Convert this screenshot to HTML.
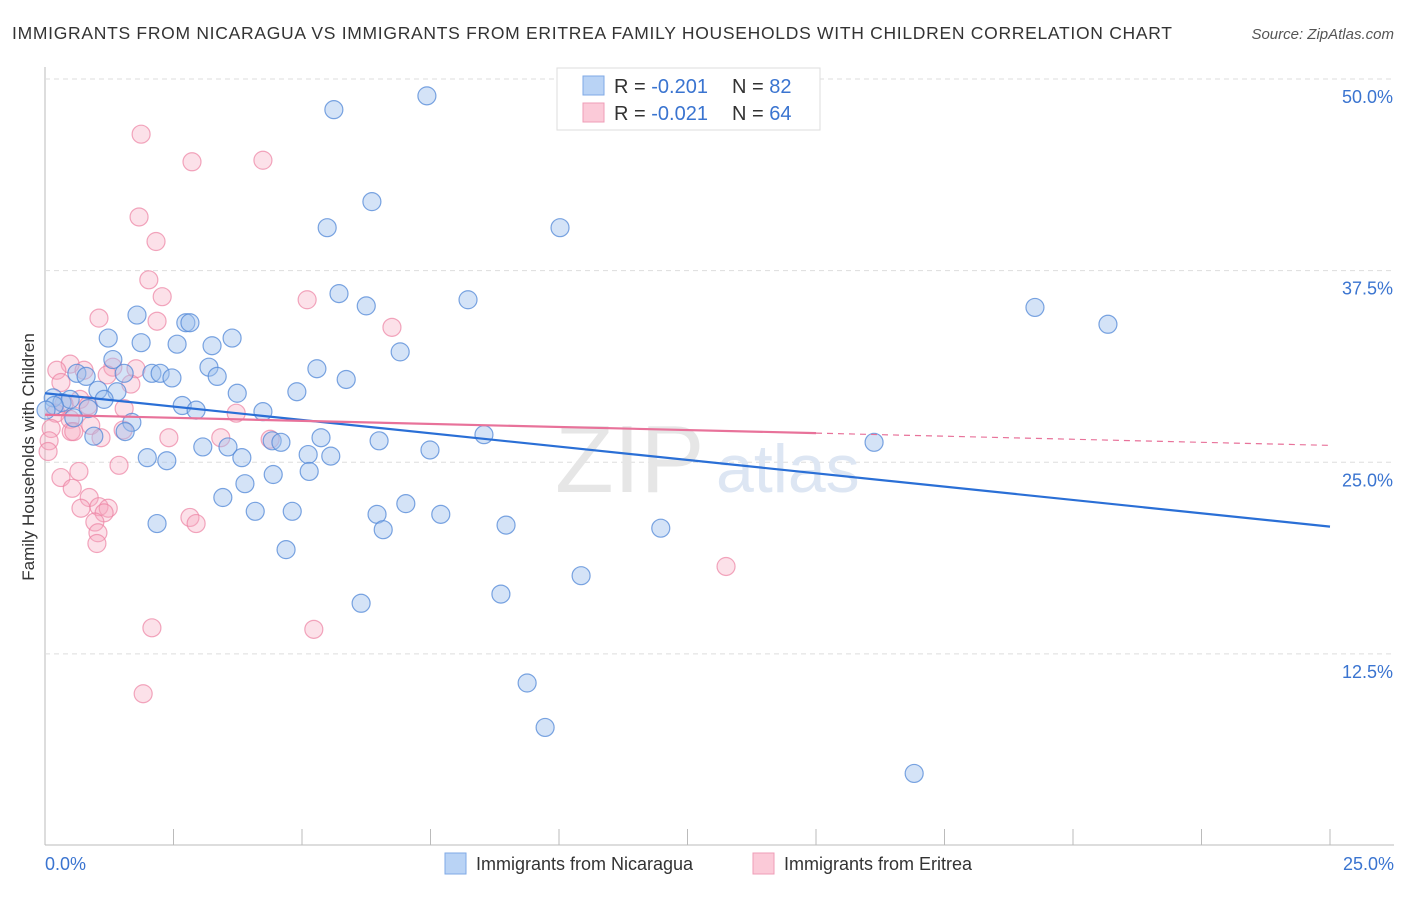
<!DOCTYPE html>
<html><head><meta charset="utf-8"><style>
body{margin:0;background:#fff;font-family:"Liberation Sans",sans-serif;}
svg text{font-family:"Liberation Sans",sans-serif;}
</style></head><body>
<svg id="chart" width="1406" height="892" xmlns="http://www.w3.org/2000/svg">
<text x="12" y="39" font-size="17.5" fill="#333" textLength="1160" lengthAdjust="spacing">IMMIGRANTS FROM NICARAGUA VS IMMIGRANTS FROM ERITREA FAMILY HOUSEHOLDS WITH CHILDREN CORRELATION CHART</text>
<text x="1394" y="39" font-size="15" fill="#555" font-style="italic" text-anchor="end">Source: ZipAtlas.com</text>
<text transform="translate(34,457) rotate(-90)" font-size="17" fill="#333" text-anchor="middle">Family Households with Children</text>
<g id="grid"></g>
<text x="555" y="492" font-size="96" fill="#e6e6e6" font-family="Liberation Serif">ZIP</text>
<text x="716" y="492" font-size="68" fill="#dde6f3">atlas</text>
<g id="pts"></g>
<g id="lines"></g>
<g>
<rect x="557" y="68" width="263" height="62" fill="#fff" stroke="#ddd"/>
<rect x="583" y="76" width="21" height="19" fill="#b9d3f5" stroke="#7fa9e6"/>
<rect x="583" y="103" width="21" height="19" fill="#fbcad8" stroke="#ef9db7"/>
<text x="614" y="93" font-size="20" fill="#333">R = <tspan fill="#3a74d0">-0.201</tspan></text>
<text x="732" y="93" font-size="20" fill="#333">N = <tspan fill="#3a74d0">82</tspan></text>
<text x="614" y="120" font-size="20" fill="#333">R = <tspan fill="#3a74d0">-0.021</tspan></text>
<text x="732" y="120" font-size="20" fill="#333">N = <tspan fill="#3a74d0">64</tspan></text>
</g>
<g>
<rect x="445" y="853" width="21" height="21" fill="#b9d3f5" stroke="#7fa9e6"/>
<text x="476" y="870" font-size="18" fill="#333">Immigrants from Nicaragua</text>
<rect x="753" y="853" width="21" height="21" fill="#fbcad8" stroke="#ef9db7"/>
<text x="784" y="870" font-size="18" fill="#333">Immigrants from Eritrea</text>
</g>
</svg>
<script>
const yTicks=[12.5,25,37.5,50];
const yTickLabels=["12.5%","25.0%","37.5%","50.0%"];
const xTicks=[0,2.5,5,7.5,10,12.5,15,17.5,20,22.5,25];
const blueX=[5.62,7.43,6.36,5.49,10.02,5.72,6.25,8.23,19.26,20.68,1.79,2.74,2.82,1.23,1.87,2.57,3.25,3.64,6.91,1.32,3.19,5.29,2.08,2.24,2.47,3.35,5.86,1.54,0.62,0.80,1.03,1.40,3.74,4.90,1.15,0.16,0.33,0.49,2.67,2.94,0.84,4.24,1.69,0.56,1.56,0.95,5.37,6.50,8.54,4.42,4.59,3.07,3.56,7.49,16.13,1.99,2.37,3.83,5.12,5.56,4.44,5.14,3.89,3.46,7.02,4.09,4.81,6.46,7.70,2.18,6.58,8.97,11.98,4.69,10.43,8.87,6.15,9.38,9.73,16.91,0.18,0.02];
const blueY=[48.0,48.9,42.0,40.3,40.3,36.0,35.2,35.6,35.1,34.0,34.6,34.1,34.1,33.1,32.8,32.7,32.6,33.1,32.2,31.7,31.2,31.1,30.8,30.8,30.5,30.6,30.4,30.8,30.8,30.6,29.7,29.6,29.5,29.6,29.1,29.2,28.9,29.1,28.7,28.4,28.5,28.3,27.6,27.9,27.0,26.7,26.6,26.4,26.8,26.4,26.3,26.0,26.0,25.8,26.3,25.3,25.1,25.3,25.5,25.4,24.2,24.4,23.6,22.7,22.3,21.8,21.8,21.6,21.6,21.0,20.6,20.9,20.7,19.3,17.6,16.4,15.8,10.6,7.7,4.7,28.7,28.4];
const pinkX=[1.87,2.86,4.24,1.83,2.16,2.02,2.28,5.10,1.05,2.18,6.75,0.49,0.23,0.76,1.32,1.77,1.21,0.31,1.67,0.68,0.37,0.84,1.54,3.72,0.21,0.49,0.89,1.52,0.12,0.51,0.56,1.09,2.41,3.42,4.38,0.08,0.06,1.44,0.66,0.31,0.53,0.86,0.70,1.05,1.23,1.15,0.97,2.82,2.94,1.03,1.01,13.25,2.08,5.23,1.91];
const pinkY=[46.4,44.6,44.7,41.0,39.4,36.9,35.8,35.6,34.4,34.2,33.8,31.4,31.0,31.0,31.2,31.1,30.7,30.2,30.1,29.1,28.8,28.7,28.5,28.2,28.2,27.8,27.4,27.1,27.2,27.0,27.0,26.6,26.6,26.6,26.5,26.4,25.7,24.8,24.4,24.0,23.3,22.7,22.0,22.1,22.0,21.7,21.1,21.4,21.0,20.4,19.7,18.2,14.2,14.1,9.9];
const blueTrend=[29.5,20.8];
const pinkTrend=[28.1,26.1];
const pinkSolidEnd=15;
const NS="http://www.w3.org/2000/svg";
const X=v=>45+v*51.4, Y=v=>845.5-v*15.33;
function mk(tag,attrs,parent){const e=document.createElementNS(NS,tag);for(const k in attrs)e.setAttribute(k,attrs[k]);parent.appendChild(e);return e;}
const grid=document.getElementById('grid');
const ax=mk('line',{x1:45,y1:67,x2:45,y2:845,stroke:'#bbb'},grid);


const bx=mk('line',{x1:45,y1:845,x2:1394,y2:845,stroke:'#bbb'},grid);


yTicks.forEach((t,i)=>{
 const g=mk('line',{x1:45,x2:1394,y1:Y(t),y2:Y(t),stroke:'#ddd','stroke-dasharray':'5,4'},grid);
 
 
 const tx=mk('text',{x:1393,y:Y(t)+24,'font-size':18,fill:'#3a74d0','text-anchor':'end'},grid);
 tx.textContent=yTickLabels[i];
 
 
});
xTicks.forEach(t=>{
 const l=mk('line',{x1:X(t),x2:X(t),y1:829,y2:845,stroke:'#bbb'},grid);
 
 
});
[[0,"0.0%","start",45],[25,"25.0%","end",1394]].forEach(a=>{
 const tx=mk('text',{x:a[3],y:870,'font-size':18,fill:'#3a74d0','text-anchor':a[2]},grid);
 tx.textContent=a[1];
 
 
});
const pts=document.getElementById('pts');
pinkX.forEach((x,i)=>{
 const c=mk('circle',{cx:X(x),cy:Y(pinkY[i]),r:9,fill:'rgba(247,168,192,0.35)',stroke:'rgba(236,130,162,0.7)','stroke-width':1.2},pts);
 
 
});
blueX.forEach((x,i)=>{
 const c=mk('circle',{cx:X(x),cy:Y(blueY[i]),r:9,fill:'rgba(160,194,238,0.45)',stroke:'rgba(80,135,215,0.75)','stroke-width':1.2},pts);
 
 
});
const lines=document.getElementById('lines');
const bl=mk('line',{x1:X(0),y1:Y(blueTrend[0]),x2:X(25),y2:Y(blueTrend[1]),stroke:'#2a6fd6','stroke-width':2.2},lines);


const pm=pinkTrend[0]+(pinkTrend[1]-pinkTrend[0])*pinkSolidEnd/25;
const pl=mk('line',{x1:X(0),y1:Y(pinkTrend[0]),x2:X(pinkSolidEnd),y2:Y(pm),stroke:'#e8729a','stroke-width':2.2},lines);


const pd=mk('line',{x1:X(pinkSolidEnd),y1:Y(pm),x2:X(25),y2:Y(pinkTrend[1]),stroke:'#e8729a','stroke-width':1.2,'stroke-dasharray':'6,5'},lines);


</script>
</body></html>
